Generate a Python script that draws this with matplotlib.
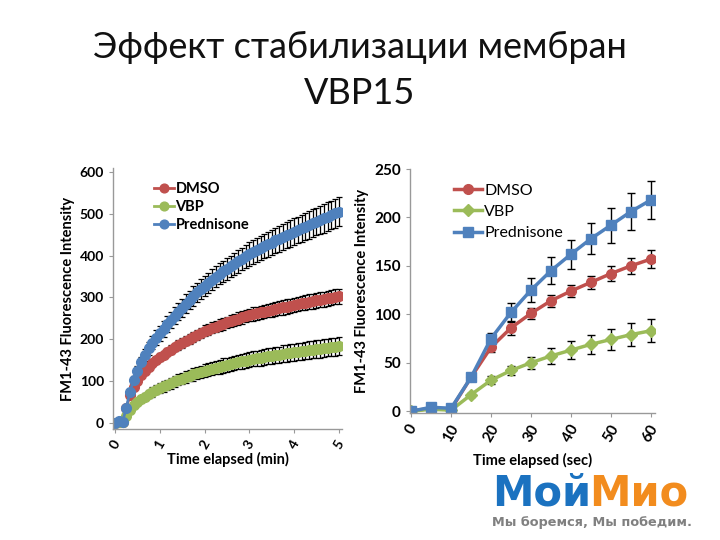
import numpy as np
import matplotlib
matplotlib.use('Agg')
import matplotlib.pyplot as plt

# time points, every 5 s
t_sec = list(range(0, 305, 5))
t_short = list(range(0, 65, 5))

# long recording (0-5 min)
dmso_long = [0, 3, 2, 35, 66, 86, 101, 114, 124, 133, 142, 150, 157,
             163, 169, 175, 181, 186, 191, 196, 201, 206, 211, 215, 220,
             223, 227, 230, 234, 237, 240, 243, 246, 249, 252, 255, 258,
             260, 262, 264, 266, 268, 270, 272, 274, 276, 278, 280, 282,
             284, 286, 287, 289, 291, 293, 294, 296, 298, 299, 301, 303]
vbp_long = [0, 2, 1, 17, 32, 42, 50, 57, 63, 69, 74, 79, 83,
            87, 91, 95, 99, 103, 106, 110, 113, 116, 119, 122, 125,
            127, 130, 132, 134, 137, 139, 141, 143, 145, 147, 149, 151,
            153, 154, 156, 157, 159, 160, 162, 163, 165, 166, 168, 169,
            170, 171, 173, 174, 175, 176, 177, 179, 180, 181, 182, 184]
pred_long = [0, 4, 3, 35, 75, 102, 125, 145, 162, 178, 192, 204, 214,
             225, 236, 246, 256, 266, 275, 285, 294, 303, 312, 320, 328,
             335, 342, 349, 356, 362, 368, 374, 380, 386, 392, 398, 404,
             408, 413, 418, 423, 427, 431, 436, 440, 444, 448, 452, 457,
             461, 465, 469, 473, 477, 481, 485, 489, 493, 497, 501, 505]
dmso_long_err = [2, 2, 2, 3, 4, 6, 6, 5, 6, 7, 8, 8, 9,
                 9, 10, 10, 10, 11, 11, 11, 12, 12, 12, 12, 13,
                 13, 13, 13, 14, 14, 14, 14, 15, 15, 15, 15, 15,
                 16, 16, 16, 16, 16, 16, 17, 17, 17, 17, 17, 17,
                 17, 17, 18, 18, 18, 18, 18, 18, 18, 18, 18, 18]
vbp_long_err = [2, 2, 2, 3, 4, 5, 6, 8, 9, 10, 11, 11, 12,
                12, 12, 13, 13, 13, 14, 14, 14, 15, 15, 15, 15,
                16, 16, 16, 16, 17, 17, 17, 17, 17, 18, 18, 18,
                18, 18, 19, 19, 19, 19, 19, 19, 20, 20, 20, 20,
                20, 20, 20, 21, 21, 21, 21, 21, 21, 22, 22, 22]
pred_long_err = [2, 2, 2, 3, 6, 9, 11, 13, 14, 15, 16, 17, 18,
                 19, 19, 20, 20, 21, 21, 22, 22, 23, 23, 24, 24,
                 24, 25, 25, 25, 26, 26, 26, 27, 27, 27, 28, 28,
                 28, 29, 29, 29, 30, 30, 30, 31, 31, 31, 32, 32,
                 32, 32, 33, 33, 33, 33, 34, 34, 34, 34, 35, 35]

# short recording (0-60 s)
dmso = [0, 3, 2, 35, 66, 86, 101, 114, 124, 133, 142, 150, 157]
vbp = [0, 2, 1, 17, 32, 42, 50, 57, 63, 69, 74, 79, 83]
pred = [0, 4, 3, 35, 75, 102, 125, 145, 162, 178, 192, 206, 218]
dmso_err = [2, 1, 1, 2, 5, 7, 6, 6, 6, 7, 8, 8, 9]
vbp_err = [1, 1, 1, 2, 4, 5, 6, 8, 9, 10, 11, 12, 12]
pred_err = [2, 2, 2, 3, 6, 10, 12, 14, 15, 16, 18, 19, 20]

labels = ['DMSO', 'VBP', 'Prednisone']
colors = ['#C0504D', '#9BBB59', '#4F81BD']

FONT = 'Lato'
fig = plt.figure(figsize=(7.2, 5.4), dpi=100)

fig.text(0.5, 0.912, 'Эффект стабилизации мембран', ha='center', va='center',
         fontsize=26, family=FONT, color='#111111')
fig.text(0.5, 0.826, 'VBP15', ha='center', va='center',
         fontsize=26, family=FONT, color='#111111')


def style_axes(ax):
    for s in ['top', 'right']:
        ax.spines[s].set_visible(False)
    for s in ['left', 'bottom']:
        ax.spines[s].set_color('#999999')
        ax.spines[s].set_linewidth(1.0)
    ax.tick_params(colors='#999999', length=3, width=0.8, labelcolor='black',
                   labelsize=10)
    for lab in ax.get_xticklabels() + ax.get_yticklabels():
        lab.set_fontweight('bold')
        lab.set_family(FONT)


# left: 5 min
ax1 = fig.add_axes([0.157, 0.206, 0.318, 0.482])
t_min = [t / 60 for t in t_sec]
for y, e, c, lab in zip([dmso_long, vbp_long, pred_long],
                        [dmso_long_err, vbp_long_err, pred_long_err], colors, labels):
    ax1.errorbar(t_min, y, yerr=e, color=c, ecolor='black', elinewidth=0.9,
                 capsize=2.5, capthick=0.9, marker='o', markersize=7,
                 lw=2, label=lab)
ax1.set_xlim(-0.045, 5.07)
ax1.set_ylim(-14, 608)
ax1.set_xticks([0, 1, 2, 3, 4, 5])
ax1.set_yticks([0, 100, 200, 300, 400, 500, 600])
style_axes(ax1)
for lab in ax1.get_xticklabels():
    lab.set_rotation(60)
ax1.set_xlabel('Time elapsed (min)', fontsize=10.5, fontweight='bold', family=FONT, labelpad=1)
ax1.set_ylabel('FM1-43 Fluorescence Intensity', fontsize=10.5, fontweight='bold', family=FONT, labelpad=3)
h, l = ax1.get_legend_handles_labels()
h = [hh[0] for hh in h]
ax1.legend(h, l, loc='upper left', bbox_to_anchor=(0.12, 1.0), frameon=False,
           prop={'family': FONT, 'weight': 'bold', 'size': 10.5}, handlelength=1.4,
           handletextpad=0.1, labelspacing=0.3, markerscale=0.9)

# right: 60 s
ax2 = fig.add_axes([0.5694, 0.235, 0.340, 0.452])
markers = ['o', 'D', 's']
for y, e, c, lab, m in zip([dmso, vbp, pred], [dmso_err, vbp_err, pred_err],
                           colors, labels, markers):
    ax2.errorbar(t_short, y, yerr=e, color=c, ecolor='black', elinewidth=1,
                 capsize=3, capthick=1, marker=m, markersize=7 if m != 'D' else 6,
                 lw=2.5, label=lab)
ax2.set_xlim(-0.3, 61)
ax2.set_ylim(-2, 250)
ax2.set_xticks([0, 10, 20, 30, 40, 50, 60])
ax2.set_yticks([0, 50, 100, 150, 200, 250])
style_axes(ax2)
ax2.tick_params(labelsize=11)
for lab in ax2.get_xticklabels():
    lab.set_rotation(60)
ax2.set_xlabel('Time elapsed (sec)', fontsize=10.5, fontweight='bold', family=FONT, labelpad=6)
ax2.set_ylabel('FM1-43 Fluorescence Intensity', fontsize=10.5, fontweight='bold', family=FONT, labelpad=4)
h, l = ax2.get_legend_handles_labels()
h = [hh[0] for hh in h]
ax2.legend(h, l, loc='upper left', bbox_to_anchor=(0.12, 1.0), frameon=False,
           prop={'family': FONT, 'size': 11.5}, handlelength=1.8,
           handletextpad=0.1, labelspacing=0.45)

# logo
fig.text(0.683, 0.063, 'Мой', color='#1B72C0', fontsize=30, fontweight='heavy',
         family='DejaVu Sans', ha='left', va='baseline')
fig.text(0.818, 0.063, 'Мио', color='#F28C1E', fontsize=30, fontweight='heavy',
         family='DejaVu Sans', ha='left', va='baseline')
fig.text(0.683, 0.044, 'Мы боремся, Мы победим.', color='#808080', fontsize=9.3,
         fontweight='bold', family='DejaVu Sans', ha='left', va='top')

fig.savefig('out.png', dpi=100)
